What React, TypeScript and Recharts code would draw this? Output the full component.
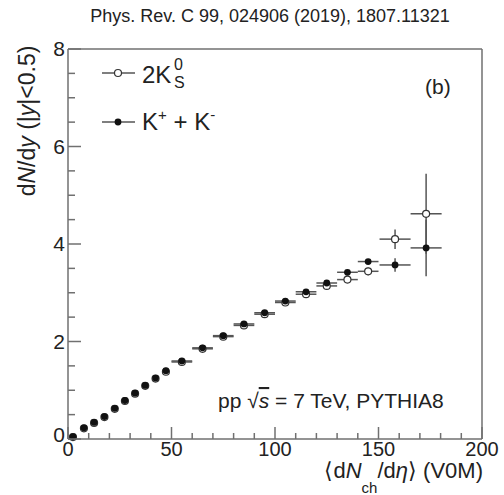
import React from 'react';
import { ScatterChart, Scatter, XAxis, YAxis, ErrorBar } from 'recharts';

// <dNch/deta> (V0M) bins
const multX = [2.4, 7.7, 12.6, 17.6, 22.6, 27.5, 32.4, 37.3, 42.3, 47.3, 55, 65, 75, 85, 95, 105, 115, 125, 135, 145, 158, 173];
const multXErr = [1.5, 1.5, 1.5, 1.5, 1.5, 1.5, 1.5, 1.5, 1.5, 1.5, 5, 5, 5, 5, 5, 5, 5, 5, 5, 5, 7.5, 7.5];

// K+ + K-
const kChY = [0.05, 0.23, 0.34, 0.46, 0.63, 0.79, 0.94, 1.1, 1.25, 1.4, 1.6, 1.87, 2.12, 2.36, 2.59, 2.83, 3.02, 3.2, 3.42, 3.64, 3.57, 3.92];
const kChErr = [0.02, 0.02, 0.02, 0.02, 0.02, 0.02, 0.02, 0.02, 0.02, 0.02, 0.02, 0.02, 0.02, 0.02, 0.02, 0.03, 0.03, 0.03, 0.04, 0.05, 0.14, 0.58];

// 2K0S
const k0sY = [0.04, 0.22, 0.33, 0.45, 0.62, 0.78, 0.93, 1.09, 1.24, 1.38, 1.58, 1.85, 2.1, 2.33, 2.56, 2.8, 2.97, 3.14, 3.27, 3.44, 4.1, 4.62];
const k0sErr = [0.02, 0.02, 0.02, 0.02, 0.02, 0.02, 0.02, 0.02, 0.02, 0.02, 0.02, 0.02, 0.02, 0.03, 0.03, 0.03, 0.03, 0.04, 0.05, 0.08, 0.2, 0.82];

const xTicks = Array.from({ length: 21 }, (_, i) => i * 10);
const yTicks = Array.from({ length: 17 }, (_, i) => i * 0.5);

const FONT = '"Liberation Sans", Arial, Helvetica, sans-serif';
const AXIS = '#707070';
const BAR = '#555';

const kChData = multX.map((x, i) => ({ x, y: kChY[i], ex: multXErr[i], ey: kChErr[i] }));
const k0sData = multX.map((x, i) => ({ x, y: k0sY[i], ex: multXErr[i], ey: k0sErr[i] }));

const BottomTick = ({ x, y, payload }: any) => {
  const major = payload.value % 50 === 0;
  return (
    <g>
      <line x1={x} y1={y} x2={x} y2={y - (major ? 12 : 6)} stroke={AXIS} strokeWidth={1.5} />
      {major && (
        <text x={x} y={y + 17} textAnchor="middle" fontSize={20} fontFamily={FONT} fill="#222">
          {payload.value}
        </text>
      )}
    </g>
  );
};

const TopTick = ({ x, y, payload }: any) => {
  const major = payload.value % 50 === 0;
  return <line x1={x} y1={y} x2={x} y2={y + (major ? 12 : 6)} stroke={AXIS} strokeWidth={1.5} />;
};

const LeftTick = ({ x, y, payload }: any) => {
  const major = payload.value % 2 === 0;
  // the zero label sits a little higher so it clears the x-axis zero
  const dy = payload.value === 0 ? 3 : 7;
  return (
    <g>
      <line x1={x} y1={y} x2={x + (major ? 13 : 7)} y2={y} stroke={AXIS} strokeWidth={1.5} />
      {major && (
        <text x={x - 3} y={y + dy} textAnchor="end" fontSize={21} fontFamily={FONT} fill="#222">
          {payload.value}
        </text>
      )}
    </g>
  );
};

const RightTick = ({ x, y, payload }: any) => {
  const major = payload.value % 2 === 0;
  return <line x1={x} y1={y} x2={x - (major ? 13 : 7)} y2={y} stroke={AXIS} strokeWidth={1.5} />;
};

const FilledDot = (p: any) => <circle cx={p.cx} cy={p.cy} r={3.4} fill="#111" />;
const OpenDot = (p: any) => <circle cx={p.cx} cy={p.cy} r={3.5} fill="#fff" stroke="#333" strokeWidth={1.2} />;

export default function App() {
  const axisLine = { stroke: AXIS, strokeWidth: 1.5 };
  return (
    <div style={{ position: 'absolute', left: 0, top: 0, width: 504, height: 495, background: '#fff' }}>
      <ScatterChart width={504} height={495} margin={{ top: 39, right: 12, bottom: 26, left: 38 }}>
        <XAxis xAxisId="b" type="number" dataKey="x" domain={[0, 200]} ticks={xTicks} interval={0}
          height={30} tickSize={0} tickMargin={0} axisLine={axisLine} tickLine={false} tick={(p: any) => <BottomTick {...p} />} />
        <XAxis xAxisId="t" orientation="top" type="number" domain={[0, 200]} ticks={xTicks} interval={0}
          height={10} tickSize={0} tickMargin={0} axisLine={axisLine} tickLine={false} tick={(p: any) => <TopTick {...p} />} />
        <YAxis yAxisId="l" type="number" dataKey="y" domain={[0, 8]} ticks={yTicks} interval={0}
          width={30} tickSize={0} tickMargin={0} axisLine={axisLine} tickLine={false} tick={(p: any) => <LeftTick {...p} />} />
        <YAxis yAxisId="r" orientation="right" type="number" domain={[0, 8]} ticks={yTicks} interval={0}
          width={10} tickSize={0} tickMargin={0} axisLine={axisLine} tickLine={false} tick={(p: any) => <RightTick {...p} />} />
        <Scatter data={k0sData} xAxisId="b" yAxisId="l" shape={OpenDot} isAnimationActive={false}>
          <ErrorBar dataKey="ex" direction="x" width={0} stroke={BAR} strokeWidth={1.5} />
          <ErrorBar dataKey="ey" direction="y" width={0} stroke={BAR} strokeWidth={1.5} />
        </Scatter>
        <Scatter data={kChData} xAxisId="b" yAxisId="l" shape={FilledDot} isAnimationActive={false}>
          <ErrorBar dataKey="ex" direction="x" width={0} stroke={BAR} strokeWidth={1.5} />
          <ErrorBar dataKey="ey" direction="y" width={0} stroke={BAR} strokeWidth={1.5} />
        </Scatter>
      </ScatterChart>
      <svg width={504} height={495} style={{ position: 'absolute', left: 0, top: 0, pointerEvents: 'none' }}
        fontFamily={FONT}>
        <text x={270} y={22} textAnchor="middle" fontSize={18} fill="#222">
          Phys. Rev. C 99, 024906 (2019), 1807.11321
        </text>
        <text transform="translate(35,121) rotate(-90)" textAnchor="middle" fontSize={23} fill="#222">
          d<tspan fontStyle="italic">N</tspan>/d<tspan fontStyle="italic">y</tspan> (|<tspan fontStyle="italic">y</tspan>|&lt;0.5)
        </text>
        <text x={483} y={478} textAnchor="end" fontSize={22} fill="#222">
          ⟨d<tspan fontStyle="italic">N</tspan>
          <tspan fontSize={15} dy={15}>ch</tspan>
          <tspan dy={-15}>/d</tspan>
          <tspan fontStyle="italic">η</tspan>⟩ (V0M)
        </text>
        {/* legend */}
        <line x1={102} y1={73} x2={135} y2={73} stroke={BAR} strokeWidth={1.3} />
        <circle cx={118} cy={73} r={3.5} fill="#fff" stroke="#333" strokeWidth={1.2} />
        <text x={142} y={83} fontSize={24} fill="#222">
          2K
          <tspan x={174} y={70} fontSize={16}>0</tspan>
          <tspan x={174} y={88} fontSize={16}>S</tspan>
        </text>
        <line x1={102} y1={122} x2={135} y2={122} stroke={BAR} strokeWidth={1.3} />
        <circle cx={118} cy={122} r={3.4} fill="#111" />
        <text x={142} y={130} fontSize={24} fill="#222">
          K<tspan fontSize={15} dy={-10}>+</tspan>
          <tspan dy={10}> + K</tspan>
          <tspan fontSize={15} dy={-10}>-</tspan>
        </text>
        <text x={425} y={94} fontSize={21} fill="#222">(b)</text>
        <text x={218} y={408} fontSize={21} fill="#222">
          pp √<tspan fontStyle="italic" textDecoration="overline">s</tspan> = 7 TeV, PYTHIA8
        </text>
      </svg>
    </div>
  );
}
